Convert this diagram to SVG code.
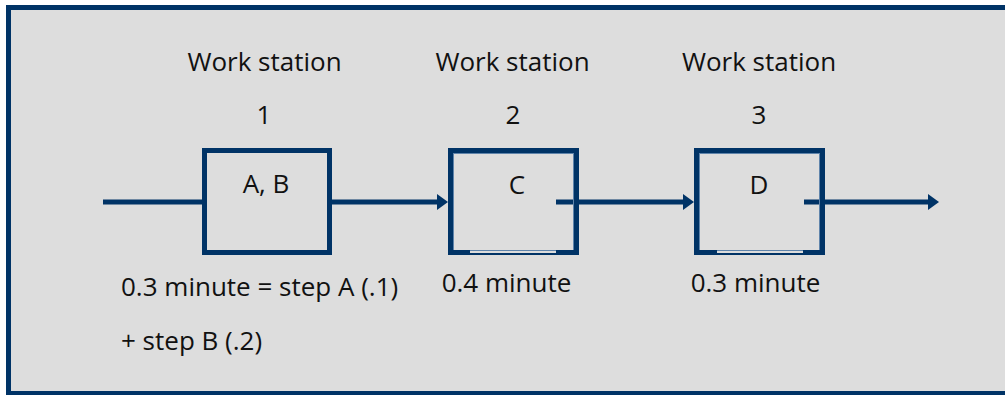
<svg xmlns="http://www.w3.org/2000/svg" width="1005" height="395" viewBox="0 0 1005 395">
<style>
text{font-family:"Open Sans","Liberation Sans",sans-serif;font-size:26px;fill:#111}
.c{text-anchor:middle}
.thick{fill:none;stroke:#003366;stroke-width:5}
.inner{fill:none;stroke:#5f84ab;stroke-width:1}
.conn{stroke:#003366;stroke-width:5;fill:none}
</style>
<defs>
<marker id="ah" markerUnits="userSpaceOnUse" markerWidth="12" markerHeight="16" refX="0" refY="8" orient="auto" overflow="visible">
<path d="M0,0 L11,8 L0,16 z" fill="#003366"/>
</marker>
</defs>
<rect x="8.5" y="7.5" width="1010" height="386" fill="#dddddd" stroke="#003366" stroke-width="5"/>
<g id="labels">
<text class="c" x="264.5" y="71">Work station</text>
<text class="c" x="512.5" y="71">Work station</text>
<text class="c" x="759" y="71">Work station</text>
<text class="c" x="264" y="124">1</text>
<text class="c" x="513" y="124">2</text>
<text class="c" x="759" y="124">3</text>
<text x="121" y="296">0.3 minute = step A (.1)</text>
<text x="121" y="350">+ step B (.2)</text>
<text class="c" x="506.5" y="292">0.4 minute</text>
<text class="c" x="755.5" y="292">0.3 minute</text>
</g>
<g id="connectors">
<line class="conn" x1="103" y1="202" x2="204" y2="202"/>
<line class="conn" x1="332" y1="202" x2="437" y2="202" marker-end="url(#ah)"/>
<line class="conn" x1="556" y1="202" x2="683" y2="202" marker-end="url(#ah)"/>
<line class="conn" x1="804" y1="202" x2="928" y2="202" marker-end="url(#ah)"/>
</g>
<g id="ws1">
<rect class="thick" x="204.5" y="150.5" width="125" height="102"/>
<text class="c" x="266" y="193">A, B</text>
</g>
<g id="ws2">
<rect class="inner" x="453.5" y="153.5" width="120" height="97"/>
<path class="thick" d="M470,252.5 H450.5 V150.5 H576.5 V252.5 H556"/>
<line x1="470" y1="254" x2="556" y2="254" stroke="#003366" stroke-width="2"/>
<text class="c" x="517" y="194">C</text>
</g>
<g id="ws3">
<rect class="inner" x="699.5" y="153.5" width="120" height="97"/>
<path class="thick" d="M717,252.5 H696.5 V150.5 H822.5 V252.5 H803"/>
<line x1="717" y1="254" x2="803" y2="254" stroke="#003366" stroke-width="2"/>
<text class="c" x="759" y="194">D</text>
</g>
</svg>
